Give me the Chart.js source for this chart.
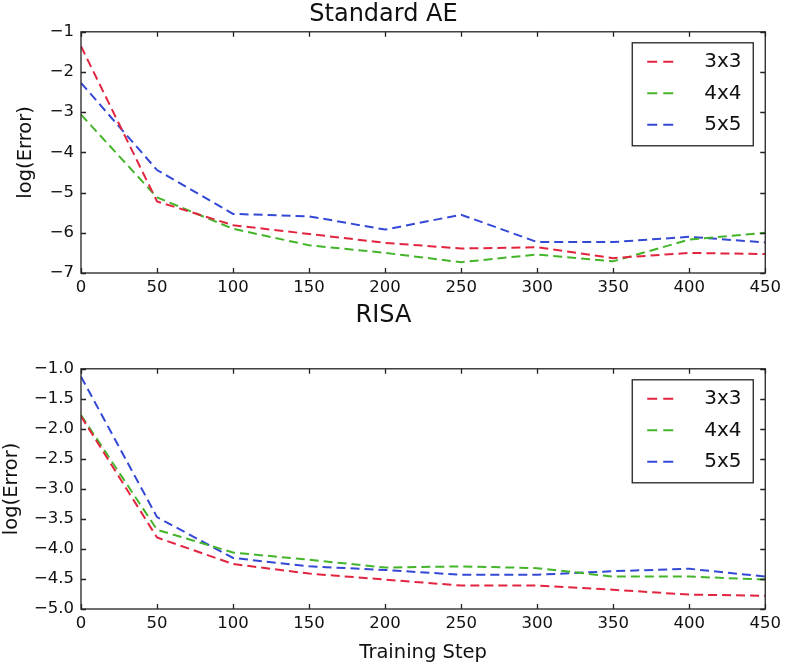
<!DOCTYPE html>
<html>
<head>
<meta charset="utf-8">
<script src="https://cdn.jsdelivr.net/npm/chart.js@4.4.0/dist/chart.umd.min.js"></script>
<style>
  body { margin: 0; background: #fff; }
  .box { width: 786px; position: relative; }
  canvas { display: block; }
</style>
</head>
<body>
<div class="box" style="height:300px"><canvas id="top" width="786" height="300"></canvas></div>
<div class="box" style="height:368px"><canvas id="bottom" width="786" height="368"></canvas></div>
<script>
// training steps (x axis)
const steps = [0, 50, 100, 150, 200, 250, 300, 350, 400, 450];
const seriesNames = ['3x3', '4x4', '5x5'];
const seriesColors = ['#e3243f', '#44b52a', '#3448d6'];

// Standard AE
const ae3x3 = [-1.36, -5.22, -5.81, -6.03, -6.25, -6.39, -6.36, -6.63, -6.50, -6.53];
const ae4x4 = [-3.06, -5.12, -5.90, -6.31, -6.50, -6.73, -6.54, -6.71, -6.17, -6.00];
const ae5x5 = [-2.27, -4.44, -5.53, -5.59, -5.92, -5.55, -6.23, -6.23, -6.10, -6.24];

// RISA
const risa3x3 = [-1.79, -3.81, -4.25, -4.41, -4.51, -4.61, -4.61, -4.68, -4.76, -4.78];
const risa4x4 = [-1.77, -3.68, -4.06, -4.18, -4.31, -4.29, -4.32, -4.46, -4.46, -4.51];
const risa5x5 = [-1.13, -3.47, -4.15, -4.29, -4.35, -4.43, -4.43, -4.37, -4.33, -4.46];

// tick labels
const xTicks = [0, 50, 100, 150, 200, 250, 300, 350, 400, 450];
const yTicksTop = [-7, -6, -5, -4, -3, -2, -1];
const yTicksBottom = [-5.0, -4.5, -4.0, -3.5, -3.0, -2.5, -2.0, -1.5, -1.0];

const FONT = "'DejaVu Sans', sans-serif";

// matplotlib style box: frame, inward ticks on all sides, boxed legend
const framePlugin = {
  id: 'frame',
  afterDatasetsDraw(chart) {
    const ctx = chart.ctx;
    const a = chart.chartArea;
    const xs = chart.scales.x, ys = chart.scales.y;
    ctx.save();
    ctx.strokeStyle = '#222';
    ctx.lineWidth = 1.3;
    ctx.strokeRect(a.left, a.top, a.right - a.left, a.bottom - a.top);
    ctx.beginPath();
    xs.ticks.forEach(t => {
      const px = Math.round(xs.getPixelForValue(t.value)) + 0.5;
      ctx.moveTo(px, a.bottom); ctx.lineTo(px, a.bottom - 5);
      ctx.moveTo(px, a.top); ctx.lineTo(px, a.top + 5);
    });
    ys.ticks.forEach(t => {
      const py = Math.round(ys.getPixelForValue(t.value)) + 0.5;
      ctx.moveTo(a.left, py); ctx.lineTo(a.left + 5, py);
      ctx.moveTo(a.right, py); ctx.lineTo(a.right - 5, py);
    });
    ctx.stroke();

    // legend
    const bw = 121, bh = 103;
    const bx = a.right - 12 - bw, by = a.top + 11;
    ctx.fillStyle = '#fff';
    ctx.fillRect(bx, by, bw, bh);
    ctx.strokeRect(bx, by, bw, bh);
    ctx.font = '20px ' + FONT;
    ctx.textBaseline = 'middle';
    chart.data.datasets.forEach((ds, i) => {
      const cy = by + 19 + i * 31.5;
      ctx.strokeStyle = ds.borderColor;
      ctx.lineWidth = 2;
      ctx.setLineDash([10, 6]);
      ctx.beginPath();
      ctx.moveTo(bx + 15, cy); ctx.lineTo(bx + 45, cy);
      ctx.stroke();
      ctx.setLineDash([]);
      ctx.fillStyle = '#111';
      ctx.fillText(ds.label, bx + 72, cy);
    });
    ctx.restore();
  }
};

function makeChart(id, title, titlePad, series, yTicks, yMin, yMax, digits, opts) {
  const datasets = series.map((vals, i) => ({
    label: seriesNames[i],
    data: steps.map((s, j) => ({ x: s, y: vals[j] })),
    borderColor: seriesColors[i],
    borderWidth: 2,
    borderDash: [9, 5],
    pointRadius: 0,
    fill: false,
    tension: 0
  }));
  return new Chart(document.getElementById(id), {
    type: 'line',
    data: { datasets },
    plugins: [framePlugin],
    options: {
      responsive: false,
      animation: false,
      devicePixelRatio: 1,
      layout: { padding: { left: 0, right: 19, top: 0, bottom: 0 } },
      plugins: {
        legend: { display: false },
        tooltip: { enabled: false },
        title: {
          display: true,
          text: title,
          color: '#111',
          font: { family: FONT, size: 24, weight: 'normal' },
          padding: titlePad
        }
      },
      scales: {
        x: {
          type: 'linear',
          min: 0, max: 450,
          afterBuildTicks: s => { s.ticks = xTicks.map(v => ({ value: v })); },
          afterFit: s => { s.height = opts.xHeight; },
          grid: { display: false, drawTicks: false },
          border: { display: false },
          ticks: { color: '#111', padding: 5, maxRotation: 0, autoSkip: false, font: { family: FONT, size: 16.5 } },
          title: {
            display: !!opts.xTitle,
            text: opts.xTitle || '',
            color: '#111',
            font: { family: FONT, size: 19.5 },
            padding: { top: 3, bottom: 3 }
          }
        },
        y: {
          min: yMin, max: yMax,
          afterBuildTicks: s => { s.ticks = yTicks.map(v => ({ value: v })); },
          afterFit: s => { s.width = 81; },
          grid: { display: false, drawTicks: false },
          border: { display: false },
          ticks: {
            color: '#111', padding: 7, autoSkip: false,
            font: { family: FONT, size: 16.5 },
            callback: v => (v < 0 ? '\u2212' : '') + Math.abs(v).toFixed(digits)
          },
          title: {
            display: true,
            text: 'log(Error)',
            color: '#111',
            font: { family: FONT, size: 19.5 },
            padding: opts.yTitlePad
          }
        }
      }
    }
  });
}

makeChart('top', 'Standard AE', { top: 0, bottom: 3 },
  [ae3x3, ae4x4, ae5x5], yTicksTop, -7, -1, 0,
  { xHeight: 27, yTitlePad: 14 });

makeChart('bottom', 'RISA', { top: 1, bottom: 39 },
  [risa3x3, risa4x4, risa5x5], yTicksBottom, -5, -1, 1,
  { xHeight: 59, yTitlePad: 0, xTitle: 'Training Step' });
</script>
</body>
</html>
